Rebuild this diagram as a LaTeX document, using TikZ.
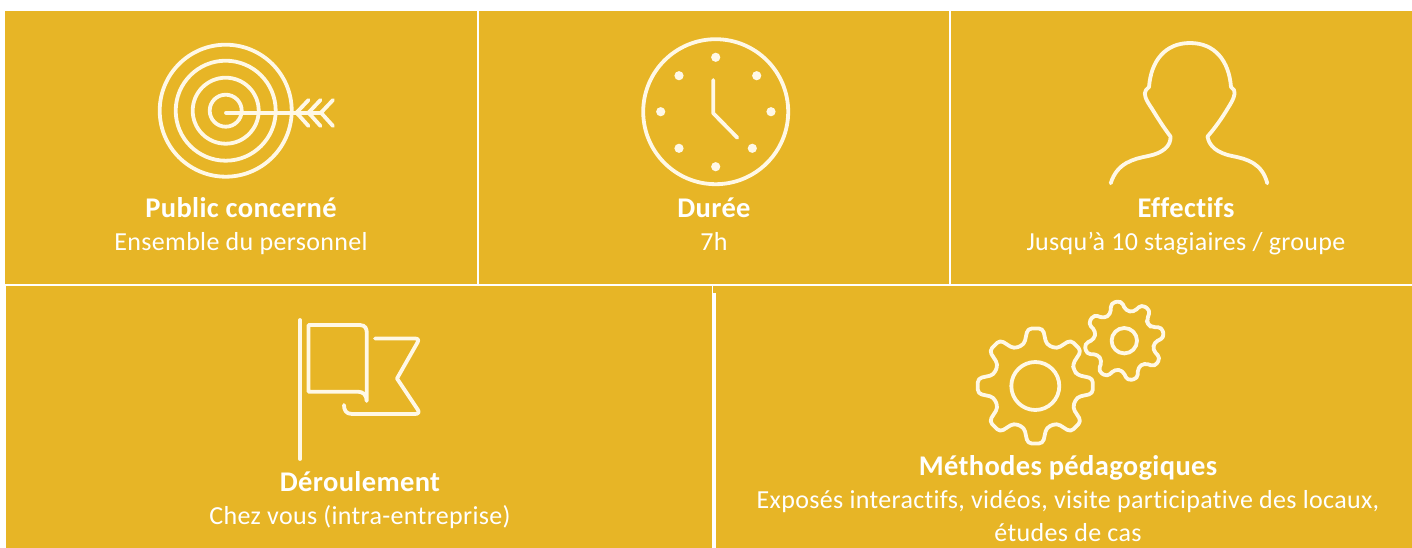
\documentclass[tikz,border=0pt]{standalone}
\usepackage{fontspec}
\setmainfont[LetterSpace=1.3,Ligatures=NoCommon]{Carlito}
\definecolor{gold}{HTML}{E7B526}
\definecolor{paleline}{HTML}{FFF8E6}
\tikzset{
 x=1pt,y=-1pt,
 panel/.style={fill=gold,draw=none},
 icon/.style={draw=paleline,line width=3.8pt,line cap=round,line join=round,fill=none},
 dot/.style={fill=paleline,draw=none},
 head/.style={anchor=base,text=white,font=\fontsize{28.5}{28.5}\selectfont\bfseries},
 body/.style={anchor=base,text=white,font=\fontsize{26}{26}\selectfont},
}
\newcommand{\gearpath}[4]{% center, outer radius, root radius, offset
 \draw[icon,rounded corners=4pt] ($#1+(#4-22.5:#3)$)
  \foreach \a in {0,45,...,315}{
   -- ($#1+(#4+\a-15:#3+1)$) -- ($#1+(#4+\a-7.5:#2)$) -- ($#1+(#4+\a+7.5:#2)$) -- ($#1+(#4+\a+15:#3+1)$)
  } -- cycle;
}
\usetikzlibrary{calc}
\begin{document}
\begin{tikzpicture}
\useasboundingbox (0,0) rectangle (1412,548);
\fill[white] (0,0) rectangle (1412,548);
% panels
\path[panel] (5,11) rectangle (477,284);
\path[panel] (479,11) rectangle (949,284);
\path[panel] (951,11) rectangle (1412,284);
\path[panel] (6,286) rectangle (712,548);
\path[panel] (716,293) rectangle (1412,548);
\path[panel] (713.3,286) rectangle (1412,293);
% target
\foreach \r in {66,50,33,16} \draw[icon] (225.7,110.7) circle[radius=\r];
\draw[icon] (226,112.7) -- (321,112.7);
\foreach \d in {0,12,24.5} \draw[icon] (308.5+\d,100) -- (296.5+\d,112.7) -- (308.5+\d,126);
% clock
\draw[icon] (715.7,111.7) circle[radius=72.5];
\foreach \p in {(715.7,57.3),(756.7,75.7),(771,111.7),(752.3,148.3),(715.7,166.7),(679,148.3),(660.7,111.7),(679,75.7)}
 \fill[dot] \p circle[radius=4.6];
\draw[icon] (713.3,80) -- (713.3,113.3) -- (737.3,137.7);
% person
\draw[icon] (1110.7,183.3) .. controls (1117,163) and (1133,159) .. (1148.3,156)
 .. controls (1163,153) and (1171,146) .. (1170.5,136.5)
 .. controls (1164,128) and (1157,117) .. (1151.5,108)
 .. controls (1146,100) and (1143,94) .. (1146,90)
 .. controls (1147,88) and (1148,88) .. (1149,87)
 .. controls (1151,61) and (1165,43) .. (1190,43)
 .. controls (1215,43) and (1229,61) .. (1231,87)
 .. controls (1232,88) and (1233,88) .. (1234,90)
 .. controls (1236,94) and (1233,100) .. (1228,108)
 .. controls (1222,118) and (1215,128) .. (1207.5,136.5)
 .. controls (1209,146) and (1217,153) .. (1232,156)
 .. controls (1247,159) and (1262,163) .. (1267.3,183.3);
% flag
\draw[icon] (300,320) -- (300,459);
\draw[icon] (308.5,325) -- (360,325) .. controls (366,325) and (366.7,330) .. (366.7,332) -- (366.7,401)
 .. controls (366.7,395) and (363,391.7) .. (358,391.7) -- (308.5,391.7) -- cycle;
\draw[icon] (375,338.5) -- (415,338.5) .. controls (418,338.5) and (419,340) .. (417.5,342.5) -- (397,378.5)
 -- (418,410) .. controls (419.5,412.5) and (418,414) .. (415,414) -- (352,414)
 .. controls (346,414) and (344,410) .. (344,405);
% gears
\gearpath{(1035.3,386)}{58}{42}{0}
\draw[icon] (1035.3,386) circle[radius=24];
\gearpath{(1124.3,340.7)}{40}{29}{-12}
\draw[icon] (1124.3,340.7) circle[radius=12.7];
% texts
\node[head] (t1) at (241,217) {Public concerné};
\node[body] (b1) at (241,250) {Ensemble du personnel};
\node[head] (t2) at (714,217) {Durée};
\node[body] (b2) at (714,250) {7h};
\node[head] (t3) at (1186,217) {Effectifs};
\node[body] (b3) at (1186,250) {Jusqu’à 10 stagiaires / groupe};
\node[head] (t4) at (360,491) {Déroulement};
\node[body] (b4) at (360,524) {Chez vous (intra-entreprise)};
\node[head] (t5) at (1068,475) {Méthodes pédagogiques};
\node[body] (b5) at (1068,508) {Exposés interactifs, vidéos, visite participative des locaux,};
\node[body] (b6) at (1068,541) {études de cas};
\end{tikzpicture}
\end{document}
